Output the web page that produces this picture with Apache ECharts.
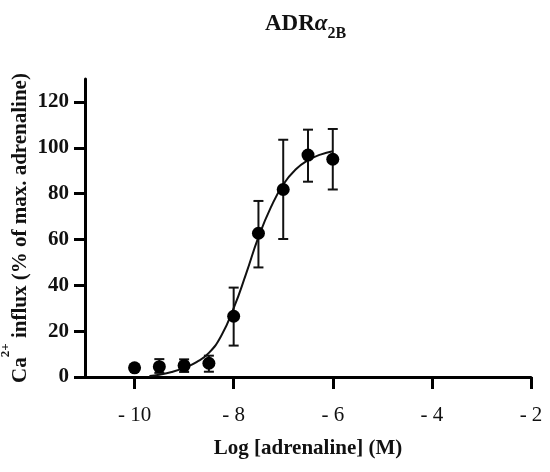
<!DOCTYPE html>
<html>
<head>
<meta charset="utf-8">
<script src="https://cdn.jsdelivr.net/npm/echarts@6/dist/echarts.min.js"></script>
<style>html,body{margin:0;padding:0;background:#fff}#c{width:550px;height:472px}</style>
</head>
<body>
<div id="c"></div>
<script>
// Data
const logConc = [-10, -9.5, -9, -8.5, -8, -7.5, -7, -6.5, -6];
const meanResp = [4.0, 4.5, 5.0, 6.0, 26.5, 62.7, 81.8, 96.8, 95.0];
const upperResp = [4.0, 7.8, 7.7, 9.3, 39.0, 76.8, 103.5, 107.9, 108.2];
const lowerResp = [4.0, 1.8, 2.2, 2.3, 13.7, 47.8, 60.2, 85.2, 81.8];
const curveX = [-9.7, -9.5, -9.25, -9, -8.75, -8.5, -8.25, -8, -7.75, -7.5, -7.25, -7, -6.75, -6.5, -6.25, -6];
const curveY = [0.4, 1.0, 2.2, 4.0, 6.5, 10.5, 18, 30, 45, 61, 74, 84, 90.5, 94.5, 97, 98.5];
const xTicks = [-10, -8, -6, -4, -2];
const yTicks = [0, 20, 40, 60, 80, 100, 120];

const FF = '"Liberation Serif", "Times New Roman", serif';
const chart = echarts.init(document.getElementById('c'));

const points = logConc.map((x, i) => [x, meanResp[i]]);
const errs = logConc.map((x, i) => [x, lowerResp[i], upperResp[i]]);
const curve = curveX.map((x, i) => [x, curveY[i]]);

chart.setOption({
  animation: false,
  title: {
    text: '{a|ADR}{b|α}{c|2B}',
    left: 260,
    top: 8,
    textStyle: {
      rich: {
        a: { fontFamily: FF, fontSize: 23, fontWeight: 'bold', color: '#111', lineHeight: 24, verticalAlign: 'top' },
        b: { fontFamily: FF, fontSize: 23, fontStyle: 'italic', color: '#111', lineHeight: 24, verticalAlign: 'top' },
        c: { fontFamily: FF, fontSize: 16, fontWeight: 'bold', color: '#111', lineHeight: 29, verticalAlign: 'bottom' }
      }
    }
  },
  grid: { left: 85, right: 19, top: 79, bottom: 95, containLabel: false, outerBoundsMode: 'none' },
  xAxis: {
    type: 'value',
    min: -11,
    max: -2,
    name: 'Log [adrenaline] (M)',
    nameLocation: 'middle',
    nameGap: 61,
    nameMoveOverlap: false,
    nameTextStyle: { fontFamily: FF, fontSize: 21, fontWeight: 'bold', color: '#111' },
    axisLine: { show: true, onZero: false, lineStyle: { color: '#000', width: 3 } },
    axisTick: { show: true, length: 12, customValues: xTicks, lineStyle: { color: '#000', width: 3 } },
    axisLabel: {
      customValues: xTicks,
      margin: 28,
      fontFamily: FF, fontSize: 21, color: '#111',
      formatter: v => '- ' + Math.abs(v)
    },
    splitLine: { show: false }
  },
  yAxis: {
    type: 'value',
    min: 0,
    max: 130,
    name: '{m|Ca}{s|2+}{m| influx (% of max. adrenaline)}',
    nameLocation: 'middle',
    nameRotate: 90,
    nameGap: 54,
    nameMoveOverlap: false,
    nameTextStyle: {
      rich: {
        m: { fontFamily: FF, fontSize: 21, fontWeight: 'bold', color: '#111', lineHeight: 32, verticalAlign: 'bottom' },
        s: { fontFamily: FF, fontSize: 13, fontWeight: 'bold', color: '#111', lineHeight: 14, verticalAlign: 'top' }
      }
    },
    axisLine: { show: true, lineStyle: { color: '#000', width: 3 } },
    axisTick: { show: true, length: 11, customValues: yTicks, lineStyle: { color: '#000', width: 3 } },
    axisLabel: {
      customValues: yTicks,
      margin: 16,
      fontFamily: FF, fontSize: 21, fontWeight: 'bold', color: '#111'
    },
    splitLine: { show: false }
  },
  series: [
    {
      type: 'line',
      data: curve,
      smooth: true,
      showSymbol: false,
      symbol: 'none',
      lineStyle: { color: '#111', width: 2 },
      z: 2
    },
    {
      type: 'custom',
      data: errs,
      renderItem: function (params, api) {
        const x = api.value(0);
        const lo = api.coord([x, api.value(1)]);
        const hi = api.coord([x, api.value(2)]);
        const hw = 5;
        const st = { stroke: '#111', lineWidth: 2 };
        return {
          type: 'group',
          children: [
            { type: 'line', shape: { x1: lo[0], y1: lo[1], x2: hi[0], y2: hi[1] }, style: st },
            { type: 'line', shape: { x1: hi[0] - hw, y1: hi[1], x2: hi[0] + hw, y2: hi[1] }, style: st },
            { type: 'line', shape: { x1: lo[0] - hw, y1: lo[1], x2: lo[0] + hw, y2: lo[1] }, style: st }
          ]
        };
      },
      z: 3
    },
    {
      type: 'scatter',
      data: points,
      symbol: 'circle',
      symbolSize: 13,
      itemStyle: { color: '#000', opacity: 1 },
      z: 4
    }
  ]
});
</script>
</body>
</html>
